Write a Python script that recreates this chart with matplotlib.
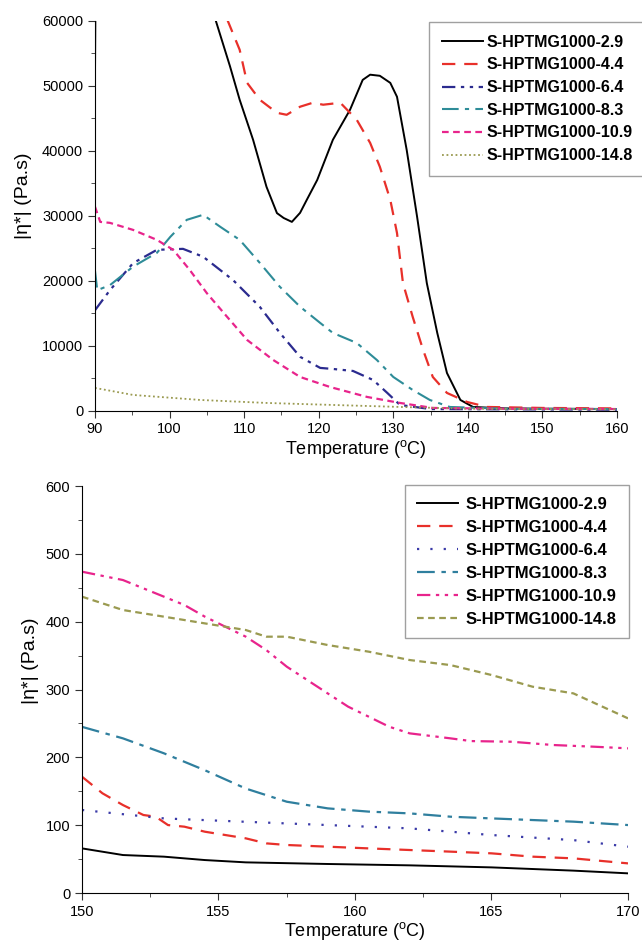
import matplotlib.pyplot as plt
from matplotlib.ticker import MultipleLocator

plt.rcParams['font.family'] = ['Liberation Sans', 'DejaVu Sans']
plt.rcParams['mathtext.fontset'] = 'custom'
plt.rcParams['mathtext.rm'] = 'Liberation Sans'

labels = ['S-HPTMG1000-2.9', 'S-HPTMG1000-4.4', 'S-HPTMG1000-6.4',
          'S-HPTMG1000-8.3', 'S-HPTMG1000-10.9', 'S-HPTMG1000-14.8']

# ---- top panel data (90-160 C) ----
t29 = [90.0, 90.15, 100, 105, 106.2, 108.1, 109.4, 111.2, 113.0, 114.4, 115.3, 116.4, 117.5, 118.4,
       119.8, 121.9, 124.2, 125.9, 126.9, 128.2, 129.6, 130.5, 131.8, 133.2, 134.5, 135.9, 137.2,
       139.0, 140.7, 145, 150, 160]
e29 = [52500, 80000, 90000, 66000, 60000, 53000, 47840, 41680, 34440, 30400, 29650, 29050, 30440, 32440,
       35500, 41680, 46300, 50900, 51700, 51530, 50440, 48300, 40120, 29800, 19620, 11960, 5800,
       1650, 570, 350, 300, 250]

t44 = [90, 100, 105, 107.8, 109.4, 110.4, 112.1, 114.4, 115.7, 117.5, 119.2, 120.6, 122.9, 125.1,
       126.9, 128.2, 129.6, 130.5, 131.3, 132.6, 134.0, 135.3, 137.2, 139.9, 142.6, 150, 160]
e44 = [120000, 80000, 68000, 60000, 55530, 50440, 47840, 45830, 45530, 46770, 47380, 47080, 47380, 44760,
       41200, 37530, 32440, 27340, 19620, 14460, 9350, 5190, 2730, 1340, 570, 420, 350]

t64 = [90, 92, 95.1, 98.3, 101.8, 104.5, 108.5, 112.1, 114.8, 117.5, 120.2, 121.9, 124.6, 127.3,
       129.2, 130.9, 135, 160]
e64 = [15460, 18540, 22700, 24750, 24900, 23690, 20110, 15980, 11960, 8290, 6580, 6420, 6110, 4720,
       2730, 880, 250, 150]

t83 = [90, 90.3, 92, 95.1, 98.3, 100.1, 102.3, 104.5, 106.8, 109.4, 112.1, 114.8, 117.5, 120.2,
       121.9, 125.1, 127.8, 130.0, 132.6, 134.9, 137.6, 145, 160]
e83 = [21500, 18540, 19310, 22160, 24290, 26750, 29360, 30140, 28290, 26290, 22740, 19050, 16000, 13500,
       11960, 10420, 7800, 5190, 3190, 1650, 570, 300, 250]

t109 = [90, 90.7, 92, 95.1, 98.3, 100.5, 102.7, 105.0, 107.7, 110.4, 113.9, 117.5, 121.5, 126.5,
        130.9, 135.3, 145, 160]
e109 = [31370, 29050, 28900, 27820, 26280, 24740, 21660, 18080, 14460, 10880, 7800, 5190, 3650, 2110,
        1190, 420, 300, 250]

t148 = [90, 95.1, 104.1, 113.0, 121.9, 131.0, 140, 160]
e148 = [3500, 2420, 1650, 1190, 880, 570, 300, 200]

# ---- bottom panel data (150-170 C) ----
b29_t = [150, 151.5, 153, 154.5, 156, 159, 162, 165, 168, 170]
b29 = [65.8, 56, 53.6, 48.6, 45.2, 42.8, 40.8, 37.8, 33, 29]

b44_t = [150, 150.75, 151.5, 152.25, 152.7, 153.15, 153.75, 154.5, 155.25, 156, 156.75, 157.5, 159,
         160.5, 162, 163.5, 165, 166.5, 168, 170]
b44 = [171.5, 147, 129.7, 115, 112.5, 100.2, 97.8, 90.4, 85.5, 80.6, 73.2, 70.8, 68.3,
       65.8, 63.4, 61, 58.5, 53.6, 51.1, 43.7]

b64_t = [150, 153, 156, 159, 162, 165, 168, 170]
b64 = [122.4, 110, 105, 100.2, 95.3, 85.5, 78, 68.3]

b83_t = [150, 151.5, 153, 154.5, 156, 157.5, 159, 160.5, 162, 163.5, 165, 166.5, 168, 170]
b83 = [245, 228, 206, 181, 154, 134.6, 124.8, 120, 117.4, 112.5, 110, 107.6, 105.2, 100.2]

b109_t = [150, 151.5, 153, 153.75, 154.5, 155.25, 156, 156.75, 157.5, 158.25, 159, 159.75, 160.5,
          161.25, 162, 163.5, 164.25, 165.75, 167.25, 168.75, 170]
b109 = [473.7, 461.4, 436.9, 424.6, 407.4, 392.6, 377.9, 358.2, 333.7, 314, 294.3, 274.7, 260,
        245.2, 235.4, 228, 224, 223, 218.2, 215.7, 213.3]

b148_t = [150, 151.5, 153, 154.5, 156, 156.75, 157.5, 159, 160.5, 162, 163.5, 165, 166.5, 168, 170]
b148 = [436.9, 417.2, 407.4, 397.5, 387.7, 377.9, 377.9, 365.6, 355.8, 343.5, 336, 321.4, 304.2, 294.3, 257.5]

fig = plt.figure(figsize=(6.42, 9.43), dpi=100)
ax1 = fig.add_axes([0.148, 0.5645, 0.813, 0.4135])
ax2 = fig.add_axes([0.1277, 0.053, 0.8505, 0.4316])

# top panel
ax1.plot(t29, e29, color='black', lw=1.4, ls='-', label=labels[0])
ax1.plot(t44, e44, color='#e8302a', lw=1.6, dashes=(6, 4), label=labels[1])
ax1.plot(t64, e64, color='#2b2b8f', lw=1.6, dashes=(6, 2.5, 1.5, 2.5, 1.5, 2.5), label=labels[2])
ax1.plot(t83, e83, color='#2e8c98', lw=1.5, dashes=(8, 3, 2, 3), label=labels[3])
ax1.plot(t109, e109, color='#e8248c', lw=1.6, dashes=(3, 2), label=labels[4])
ax1.plot(t148, e148, color='#9a9a50', lw=1.3, dashes=(1, 1.5), label=labels[5])

ax1.set_xlim(90, 160)
ax1.set_ylim(0, 60000)
ax1.xaxis.set_major_locator(MultipleLocator(10))
ax1.xaxis.set_minor_locator(MultipleLocator(5))
ax1.yaxis.set_major_locator(MultipleLocator(10000))
ax1.yaxis.set_minor_locator(MultipleLocator(5000))
ax1.set_xlabel(r'Temperature ($^{\rm o}$C)', fontsize=13, labelpad=1)
ax1.set_ylabel('|η*| (Pa.s)', fontsize=14)
ax1.yaxis.set_label_coords(-0.121, 0.55)
leg1 = ax1.legend(loc='upper left', bbox_to_anchor=(429 / 642, 1 - 22 / 943),
                  bbox_transform=fig.transFigure, prop={'weight': 'bold', 'size': 11.5},
                  handlelength=2.6, handletextpad=0.2, labelspacing=0.48,
                  fancybox=False, borderaxespad=0, borderpad=0.8)

# bottom panel
ax2.plot(b29_t, b29, color='black', lw=1.4, ls='-', label=labels[0])
ax2.plot(b44_t, b44, color='#e8302a', lw=1.6, dashes=(6, 4), label=labels[1])
ax2.plot(b64_t, b64, color='#3a3aa8', lw=1.6, dashes=(1, 5), label=labels[2])
ax2.plot(b83_t, b83, color='#2f7f9e', lw=1.6, dashes=(8, 3, 2, 3), label=labels[3])
ax2.plot(b109_t, b109, color='#e8248c', lw=1.6, dashes=(6, 2.5, 1.5, 2.5, 1.5, 2.5), label=labels[4])
ax2.plot(b148_t, b148, color='#9a9a50', lw=1.6, dashes=(3, 2), label=labels[5])

ax2.set_xlim(150, 170)
ax2.set_ylim(0, 600)
ax2.xaxis.set_major_locator(MultipleLocator(5))
ax2.xaxis.set_minor_locator(MultipleLocator(2.5))
ax2.yaxis.set_major_locator(MultipleLocator(100))
ax2.yaxis.set_minor_locator(MultipleLocator(50))
ax2.set_xlabel(r'Temperature ($^{\rm o}$C)', fontsize=13, labelpad=1)
ax2.set_ylabel('|η*| (Pa.s)', fontsize=14)
ax2.yaxis.set_label_coords(-0.079, 0.57)
leg2 = ax2.legend(loc='upper left', bbox_to_anchor=(405 / 642, 1 - 485 / 943),
                  bbox_transform=fig.transFigure, prop={'weight': 'bold', 'size': 12},
                  handlelength=2.5, handletextpad=0.45, labelspacing=0.48,
                  fancybox=False, borderaxespad=0, borderpad=0.7)

for ax, leg in ((ax1, leg1), (ax2, leg2)):
    ax.spines['top'].set_visible(False)
    ax.spines['right'].set_visible(False)
    ax.tick_params(which='both', direction='out', labelsize=10.5, color='#333333')
    ax.tick_params(which='major', length=5)
    ax.tick_params(which='minor', length=3)
    leg.get_frame().set_edgecolor('#888888')
    leg.get_frame().set_linewidth(1.0)

fig.savefig('out.png', dpi=100)
